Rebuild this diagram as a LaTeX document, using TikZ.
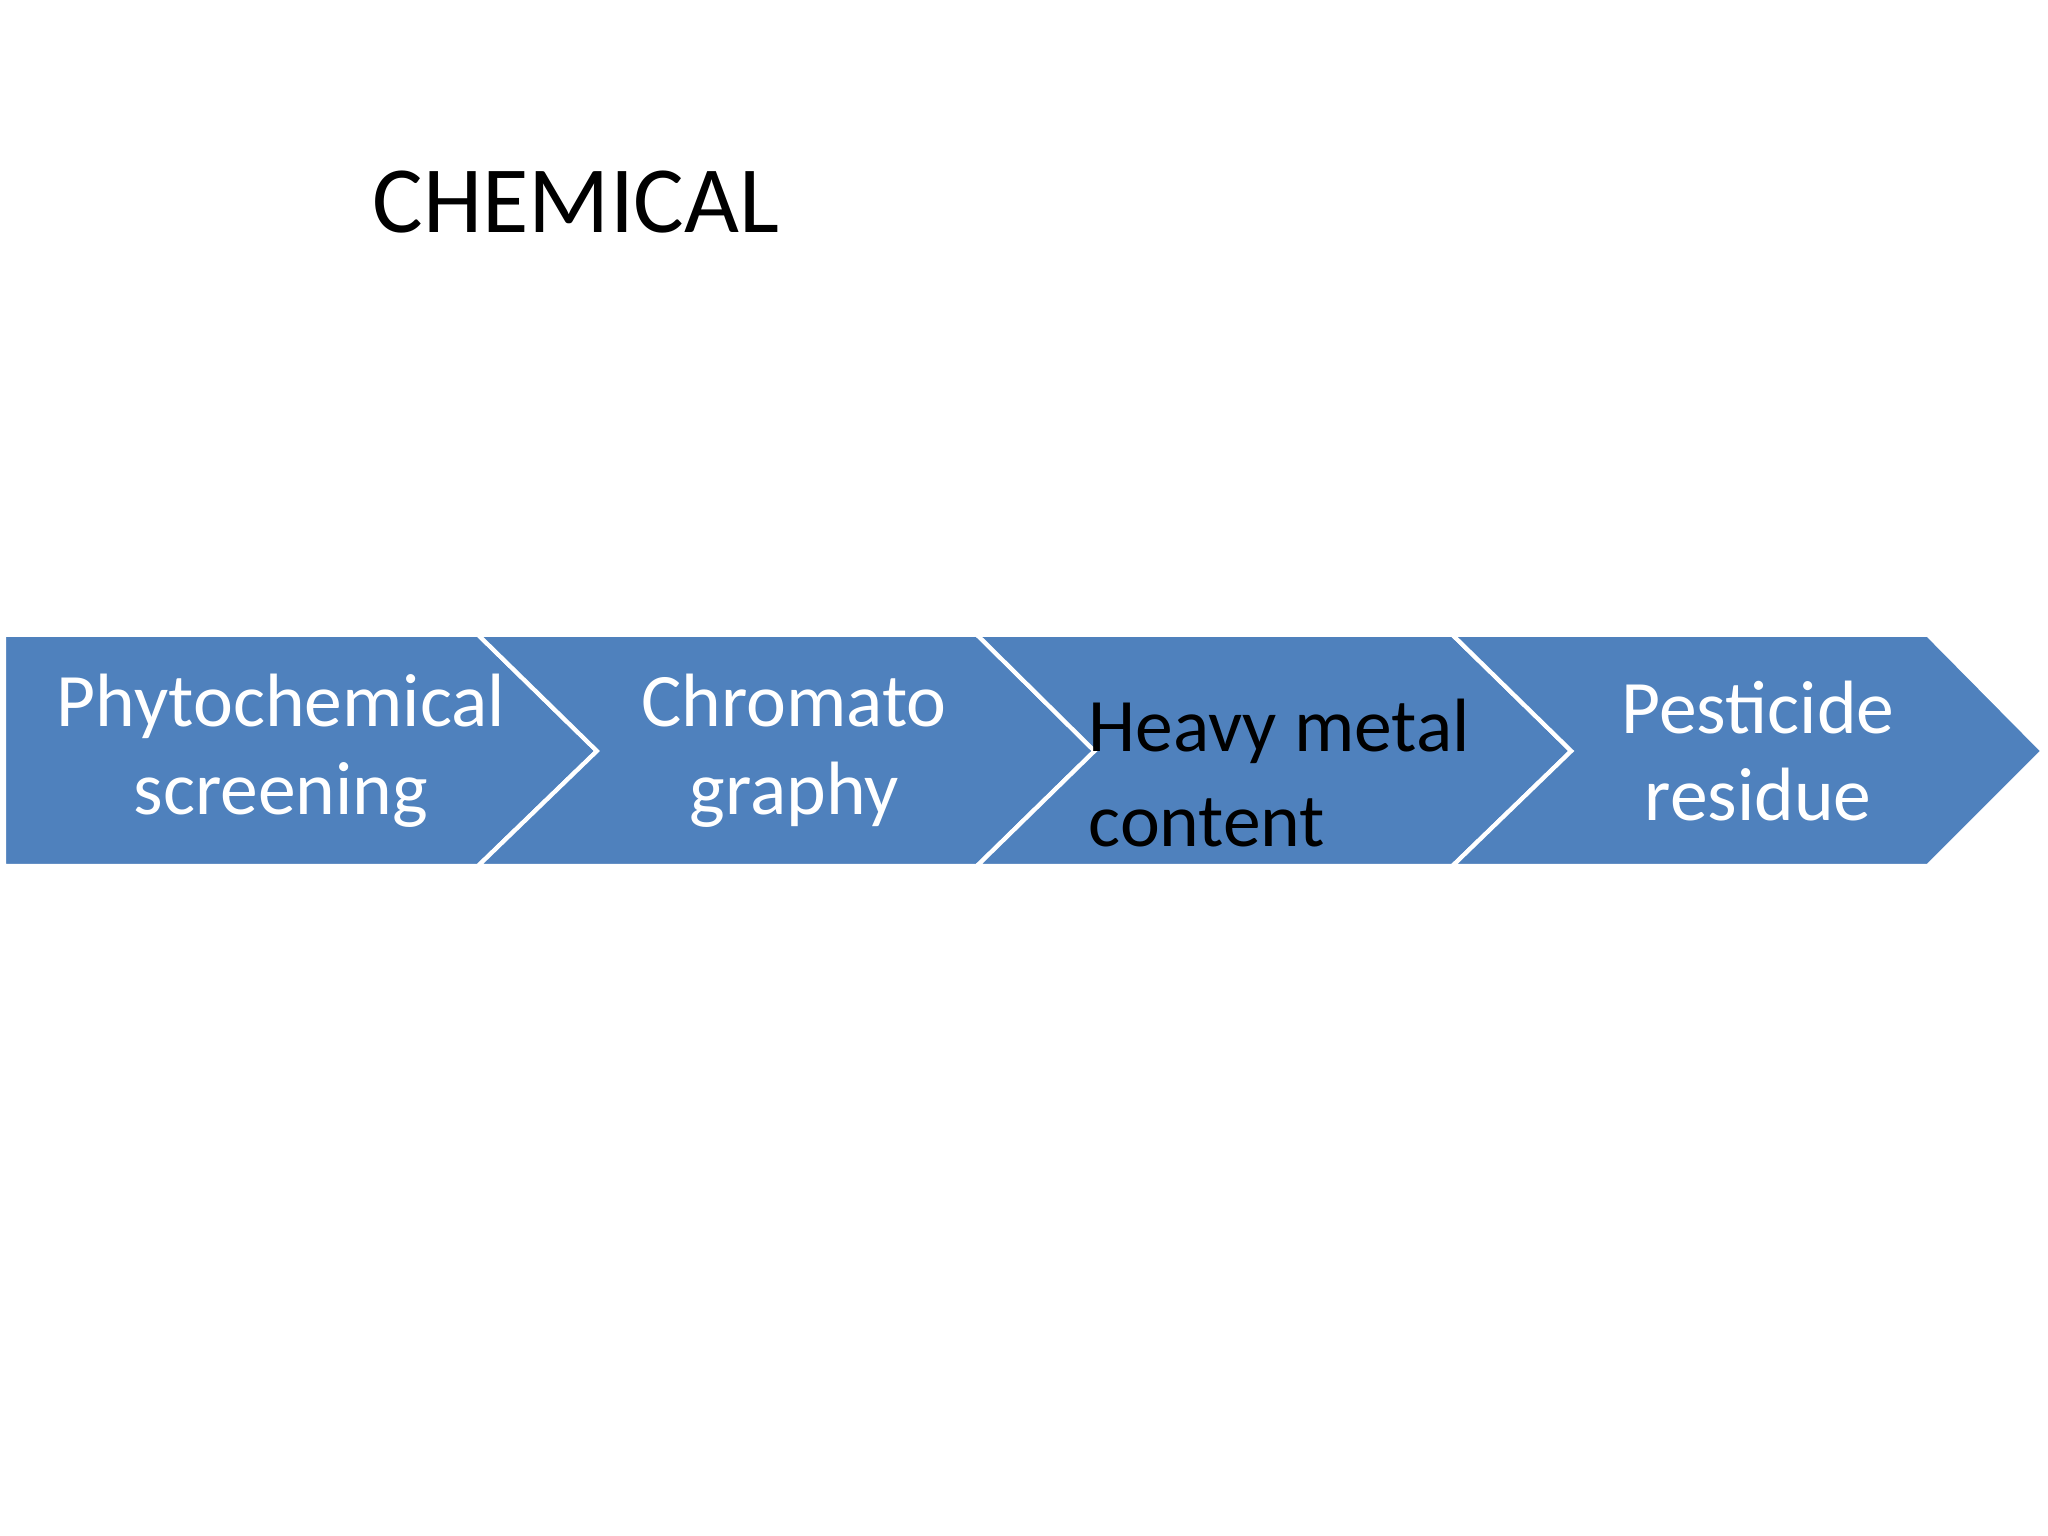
\documentclass[tikz,border=0pt]{standalone}
\usepackage{fontspec}
\setmainfont{Carlito}
\definecolor{chev}{HTML}{4F81BD}
\begin{document}
\begin{tikzpicture}[x=0.01306cm,y=-0.01306cm,
  chevbox/.style={fill=chev,draw=white,line width=1.2pt},
  lbl/.style={font=\fontsize{21.5}{25}\selectfont,align=center,text=white}]
\useasboundingbox (0,0) rectangle (1568,1176);
\fill[white] (0,0) rectangle (1568,1176);
\node[font=\fontsize{27}{30}\selectfont,anchor=base west] (title) at (276,178) {CHEMICAL};
\draw[chevbox] (3,486) -- (366,486) -- (457,575) -- (366,663) -- (3,663) -- cycle;
\draw[chevbox] (366,486) -- (748,486) -- (838,575) -- (748,663) -- (366,663) -- (457,575) -- cycle;
\draw[chevbox] (748,486) -- (1112,486) -- (1203,575) -- (1112,663) -- (748,663) -- (838,575) -- cycle;
\draw[chevbox] (1112,486) -- (1476,486) -- (1564,575) -- (1476,663) -- (1112,663) -- (1203,575) -- cycle;
\node[lbl] (a) at (215,575) {Phytochemical\\screening};
\node[lbl] (b) at (608,575) {Chromato\\graphy};
\node[lbl,text=black,align=left,anchor=west,font=\fontsize{21.5}{27}\selectfont] (c) at (824,592) {Heavy metal\\content};
\node[lbl] (d) at (1346,575) {Pesticide\\residue};
\end{tikzpicture}
\end{document}
